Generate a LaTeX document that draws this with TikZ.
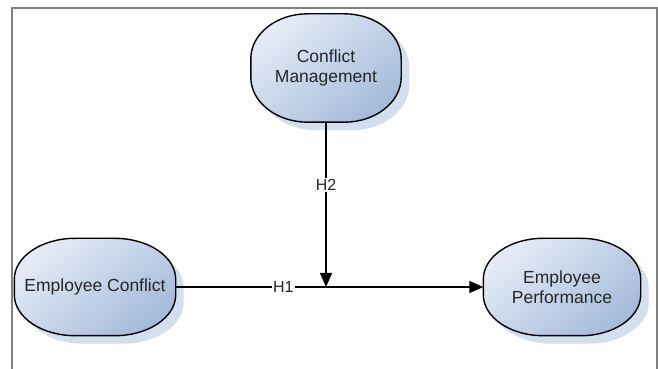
\documentclass[tikz,border=0pt]{standalone}
\usepackage{fontspec}
\setmainfont{Liberation Sans}
\usepackage{tikz}
\usetikzlibrary{arrows.meta,shadows}

\definecolor{boxlight}{HTML}{E4EBF6}
\definecolor{boxdark}{HTML}{A5BBDB}
\definecolor{boxshadow}{HTML}{D3DFEF}
\definecolor{framegray}{HTML}{808080}

\pgfdeclarelayer{background}
\pgfsetlayers{background,main}

\tikzset{
  construct/.style={draw=none, inner sep=0pt, align=center, text=black!85,
    font=\fontsize{17.5}{20}\selectfont},
  blob/.style={draw=black, line width=1.4pt,
    top color=boxlight, bottom color=boxdark, shading angle=40,
    drop shadow={shadow xshift=8pt, shadow yshift=-8pt, fill=boxshadow, opacity=1}},
  link/.style={line width=1.3pt, -{Triangle[length=14pt,width=12pt]}},
  hlabel/.style={fill=white, inner sep=1.5pt, font=\fontsize{16}{19}\selectfont, text=black!85}
}

% outline behind a construct node, with elliptic corners (#2 wide, #3 high)
\newcommand\drawblob[3]{%
  \begin{pgfonlayer}{background}
  \path[blob] ([xshift=#2pt]#1.north west) -- ([xshift=-#2pt]#1.north east)
    arc[start angle=90, end angle=0, x radius=#2pt, y radius=#3pt]
    -- ([yshift=#3pt]#1.south east)
    arc[start angle=0, end angle=-90, x radius=#2pt, y radius=#3pt]
    -- ([xshift=#2pt]#1.south west)
    arc[start angle=270, end angle=180, x radius=#2pt, y radius=#3pt]
    -- ([yshift=-#3pt]#1.north west)
    arc[start angle=180, end angle=90, x radius=#2pt, y radius=#3pt] -- cycle;
  \end{pgfonlayer}}

\begin{document}
\begin{tikzpicture}[x=1pt,y=1pt]
\useasboundingbox (0,0) rectangle (658,369);
% frame
\draw[framegray, line width=1.5pt] (12,0) -- (12,361) -- (657,361) -- (657,0);

\node [construct, minimum width=150pt, minimum height=108pt] (cm) at (326,301) {Conflict\\Management};
\node [construct, minimum width=161pt, minimum height=97pt] (ec) at (95,82) {Employee Conflict};
\node [construct, minimum width=157pt, minimum height=97pt] (ep) at (562,82) {Employee\\Performance};

\drawblob{cm}{57}{45}
\drawblob{ec}{61}{41}
\drawblob{ep}{60}{41}

\coordinate (meet) at (cm.south |- ec.east);

\draw [link] (ec.east) -- (ep.west) node [hlabel, pos=0.35] {H1};
\draw [link] (cm.south) -- (meet) node [hlabel, pos=0.38] {H2};
\end{tikzpicture}
\end{document}
